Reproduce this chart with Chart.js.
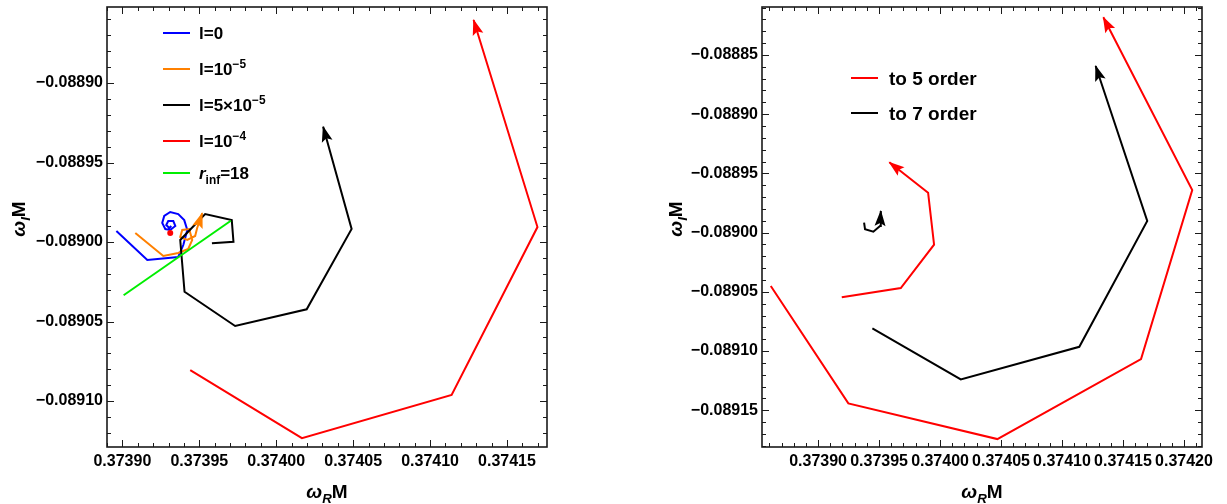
<!DOCTYPE html>
<html>
<head>
<meta charset="utf-8">
<script src="https://cdn.jsdelivr.net/npm/chart.js@4.4.1/dist/chart.umd.min.js"></script>
<style>
  html, body { margin: 0; padding: 0; background: #fff; }
  #wrap { position: relative; width: 1227px; height: 504px; }
  .box { position: absolute; top: 0; height: 504px; }
  #boxL { left: 0; width: 614px; }
  #boxR { left: 614px; width: 613px; }
</style>
</head>
<body>
<div id="wrap">
  <div class="box" id="boxL"><canvas id="chartLeft"></canvas></div>
  <div class="box" id="boxR"><canvas id="chartRight"></canvas></div>
</div>
<script>
// ---- left panel ----
const blueX = [0.3738961, 0.3739162, 0.3739363, 0.3739396, 0.3739422, 0.3739402, 0.3739363, 0.3739311, 0.3739272,
               0.3739259, 0.3739279, 0.3739311, 0.3739344, 0.3739331, 0.3739298, 0.3739285, 0.3739305, 0.3739318];
const blueY = [-0.0889931, -0.0890113, -0.0890094, -0.0890019, -0.0889924, -0.0889862, -0.0889824, -0.0889811, -0.0889836,
               -0.0889880, -0.0889918, -0.0889924, -0.0889899, -0.0889868, -0.0889868, -0.0889893, -0.0889912, -0.0889899];
const orangeX = [0.3739084, 0.3739266, 0.3739363, 0.3739428, 0.3739454, 0.3739434, 0.3739389, 0.3739376, 0.3739422, 0.3739473, 0.3739486, 0.3739519];
const orangeY = [-0.0889943, -0.0890088, -0.0890069, -0.0890044, -0.0889987, -0.0889918, -0.0889924, -0.0889968, -0.0889987, -0.0889962, -0.0889912, -0.0889818];
const blackX = [0.3739582, 0.3739722, 0.3739711, 0.3739538, 0.3739376, 0.3739404, 0.3739733, 0.3740198, 0.3740490, 0.3740305];
const blackY = [-0.0890008, -0.0889998, -0.0889862, -0.0889824, -0.0889987, -0.0890313, -0.0890528, -0.0890423, -0.0889918, -0.0889275];
const redX = [0.3739441, 0.3740167, 0.3741140, 0.3741698, 0.3741283];
const redY = [-0.0890805, -0.0891233, -0.0890962, -0.0889906, -0.0888604];
const greenX = [0.3739008, 0.3739705];
const greenY = [-0.0890335, -0.0889866];
const dotX = [0.3739311];
const dotY = [-0.0889943];

const leftXTicks = [0.37390, 0.37395, 0.37400, 0.37405, 0.37410, 0.37415];
const leftXLabels = ['0.37390', '0.37395', '0.37400', '0.37405', '0.37410', '0.37415'];
const leftYTicks = [-0.08890, -0.08895, -0.08900, -0.08905, -0.08910];
const leftYLabels = ['\u22120.08890', '\u22120.08895', '\u22120.08900', '\u22120.08905', '\u22120.08910'];

// ---- right panel ----
const o5OuterX = [0.3738612, 0.3739248, 0.3740470, 0.3741648, 0.3742068, 0.3741339];
const o5OuterY = [-0.0890451, -0.0891442, -0.0891743, -0.0891068, -0.0889640, -0.0888182];
const o5InnerX = [0.3739194, 0.3739678, 0.3739951, 0.3739902, 0.3739584];
const o5InnerY = [-0.0890546, -0.0890468, -0.0890102, -0.0889663, -0.0889406];
const o7OuterX = [0.3739445, 0.3740170, 0.3741142, 0.3741699, 0.3741276];
const o7OuterY = [-0.0890808, -0.0891239, -0.0890964, -0.0889902, -0.0888593];
const o7InnerX = [0.3739377, 0.3739385, 0.3739453, 0.3739508, 0.3739514];
const o7InnerY = [-0.0889916, -0.0889972, -0.0889992, -0.0889944, -0.0889818];

const rightXTicks = [0.37390, 0.37395, 0.37400, 0.37405, 0.37410, 0.37415, 0.37420];
const rightXLabels = ['0.37390', '0.37395', '0.37400', '0.37405', '0.37410', '0.37415', '0.37420'];
const rightYTicks = [-0.08885, -0.08890, -0.08895, -0.08900, -0.08905, -0.08910, -0.08915];
const rightYLabels = ['\u22120.08885', '\u22120.08890', '\u22120.08895', '\u22120.08900', '\u22120.08905', '\u22120.08910', '\u22120.08915'];

// legend entries: [text, mode] parts
const leftLegend = [
  { color: '#0000ff', parts: [['l=0', '']] },
  { color: '#ff8000', parts: [['l=10', ''], ['\u22125', 'sup']] },
  { color: '#000000', parts: [['l=5\u00d710', ''], ['\u22125', 'sup']] },
  { color: '#ff0000', parts: [['l=10', ''], ['\u22124', 'sup']] },
  { color: '#00ee00', parts: [['r', 'it'], ['inf', 'sub'], ['=18', '']] }
];
const rightLegend = [
  { color: '#ff0000', parts: [['to 5 order', '']] },
  { color: '#000000', parts: [['to 7 order', '']] }
];
const xTitle = [['\u03c9', 'it'], ['R', 'isub'], ['M', '']];
const yTitle = [['\u03c9', 'it'], ['I', 'isub'], ['M', '']];

const FONT = '"Liberation Sans", Arial, sans-serif';

function pts(xs, ys) { return xs.map((x, i) => ({ x: x, y: ys[i] })); }

function drawRich(ctx, parts, x, y, size, measureOnly) {
  let cx = x;
  parts.forEach(([t, mode]) => {
    const small = mode === 'sup' || mode === 'sub' || mode === 'isub';
    const s = small ? size * 0.7 : size;
    const italic = mode === 'it' || mode === 'isub';
    ctx.font = (italic ? 'italic ' : '') + 'bold ' + s + 'px ' + FONT;
    let dy = 0;
    if (mode === 'sup') dy = -size * 0.42;
    if (mode === 'sub' || mode === 'isub') dy = size * 0.28;
    if (!measureOnly) ctx.fillText(t, cx, y + dy);
    cx += ctx.measureText(t).width;
  });
  return cx - x;
}

// frame, inside ticks on all four sides, arrowheads, legend and axis titles
const mmaPlugin = {
  id: 'mma',
  afterDatasetsDraw(chart) {
    const ctx = chart.ctx;
    chart.data.datasets.forEach((ds, i) => {
      if (!ds.arrow) return;
      const d = chart.getDatasetMeta(i).data;
      const a = d[d.length - 2], b = d[d.length - 1];
      const ang = Math.atan2(b.y - a.y, b.x - a.x);
      ctx.save();
      ctx.fillStyle = ds.borderColor;
      ctx.translate(b.x, b.y);
      ctx.rotate(ang);
      ctx.beginPath();
      ctx.moveTo(1, 0);
      ctx.lineTo(-15, -5.5);
      ctx.lineTo(-12, 0);
      ctx.lineTo(-15, 5.5);
      ctx.closePath();
      ctx.fill();
      ctx.restore();
    });
  },
  afterDraw(chart, args, opts) {
    const ctx = chart.ctx;
    const a = chart.chartArea;
    ctx.save();
    ctx.strokeStyle = '#1a1a1a';
    ctx.lineWidth = 1;
    const mark = (scale, horiz) => {
      const vals = scale.ticks.map(t => t.value).sort((p, q) => p - q);
      const step = (vals[1] - vals[0]) / 5;
      const start = vals[0] - Math.floor((vals[0] - scale.min) / step + 1e-6) * step;
      for (let k = 0; k < 200; k++) {
        const v = start + k * step;
        if (v > scale.max) break;
        const r = (v - vals[0]) / step / 5;
        const len = Math.abs(r - Math.round(r)) < 1e-4 ? 7 : 4;
        const p = Math.round(scale.getPixelForValue(v)) + 0.5;
        ctx.beginPath();
        if (horiz) {
          ctx.moveTo(p, a.bottom); ctx.lineTo(p, a.bottom - len);
          ctx.moveTo(p, a.top); ctx.lineTo(p, a.top + len);
        } else {
          ctx.moveTo(a.left, p); ctx.lineTo(a.left + len, p);
          ctx.moveTo(a.right, p); ctx.lineTo(a.right - len, p);
        }
        ctx.stroke();
      }
    };
    mark(chart.scales.x, true);
    mark(chart.scales.y, false);
    ctx.lineWidth = 1.6;
    ctx.strokeRect(a.left, a.top, a.right - a.left, a.bottom - a.top);

    // legend
    const lg = opts.legend;
    ctx.fillStyle = '#000';
    ctx.textBaseline = 'alphabetic';
    lg.items.forEach((it, i) => {
      const yy = lg.rows[i];
      ctx.strokeStyle = it.color;
      ctx.lineWidth = 2;
      ctx.beginPath();
      ctx.moveTo(lg.x, yy);
      ctx.lineTo(lg.x + lg.len, yy);
      ctx.stroke();
      ctx.fillStyle = '#000';
      drawRich(ctx, it.parts, lg.x + lg.len + lg.gap, yy + lg.size * 0.36, lg.size);
    });

    // axis titles
    const ts = 19;
    const wx = drawRich(ctx, xTitle, 0, 0, ts, true);
    drawRich(ctx, xTitle, (a.left + a.right) / 2 - wx / 2, 498, ts);
    const wy = drawRich(ctx, yTitle, 0, 0, ts, true);
    ctx.translate(opts.yTitleX, (a.top + a.bottom) / 2 - 8);
    ctx.rotate(-Math.PI / 2);
    drawRich(ctx, yTitle, -wy / 2, 0, ts);
    ctx.restore();
  }
};

function makeChart(id, datasets, xr, yr, xt, xl, yt, yl, geo, legend) {
  const tickFont = { family: FONT, weight: 'bold', size: 16 };
  return new Chart(document.getElementById(id), {
    type: 'scatter',
    data: { datasets: datasets },
    options: {
      responsive: true,
      maintainAspectRatio: false,
      animation: false,
      layout: { padding: { left: 0, top: 7, right: geo.right, bottom: 0 } },
      plugins: {
        legend: { display: false },
        tooltip: { enabled: false },
        mma: { legend: legend, yTitleX: geo.yTitleX }
      },
      elements: { point: { radius: 0 }, line: { tension: 0 } },
      scales: {
        x: {
          type: 'linear', min: xr[0], max: xr[1],
          grid: { display: false, drawTicks: false },
          border: { display: false },
          afterBuildTicks: s => { s.ticks = xt.map(v => ({ value: v })); },
          afterFit: s => { s.height = 57; s.paddingLeft = 0; s.paddingRight = 0; },
          ticks: { autoSkip: false, maxRotation: 0, padding: 5, color: '#000', font: tickFont,
                   callback: (v, i) => xl[i] }
        },
        y: {
          type: 'linear', min: yr[0], max: yr[1],
          grid: { display: false, drawTicks: false },
          border: { display: false },
          afterBuildTicks: s => { s.ticks = yt.map(v => ({ value: v })); },
          afterFit: s => { s.width = geo.left; s.paddingTop = 0; s.paddingBottom = 0; },
          ticks: { autoSkip: false, padding: 4, color: '#000', font: tickFont,
                   callback: (v, i) => yl[i] }
        }
      }
    },
    plugins: [mmaPlugin]
  });
}

function line(xs, ys, color, arrow) {
  return { data: pts(xs, ys), showLine: true, borderColor: color, backgroundColor: color,
           borderWidth: 2, pointRadius: 0, arrow: arrow };
}

makeChart('chartLeft', [
  { data: pts(dotX, dotY), pointRadius: 3, backgroundColor: '#ff0000', borderWidth: 0, showLine: false },
  line(greenX, greenY, '#00ee00', false),
  line(redX, redY, '#ff0000', true),
  line(blackX, blackY, '#000000', true),
  line(orangeX, orangeY, '#ff8000', true),
  line(blueX, blueY, '#0000ff', false)
], [0.373890, 0.374176], [-0.0891289, -0.0888522],
  leftXTicks, leftXLabels, leftYTicks, leftYLabels,
  { left: 107, right: 67, yTitleX: 25 },
  { x: 163, len: 27, gap: 9, size: 17, rows: [33, 69, 105, 141, 173], items: leftLegend });

makeChart('chartRight', [
  line(o5OuterX, o5OuterY, '#ff0000', true),
  line(o5InnerX, o5InnerY, '#ff0000', true),
  line(o7OuterX, o7OuterY, '#000000', true),
  line(o7InnerX, o7InnerY, '#000000', true)
], [0.373854, 0.3742148], [-0.089181, -0.0888095],
  rightXTicks, rightXLabels, rightYTicks, rightYLabels,
  { left: 148, right: 25, yTitleX: 68 },
  { x: 237, len: 27, gap: 11, size: 19, rows: [78, 113], items: rightLegend });
</script>
</body>
</html>
